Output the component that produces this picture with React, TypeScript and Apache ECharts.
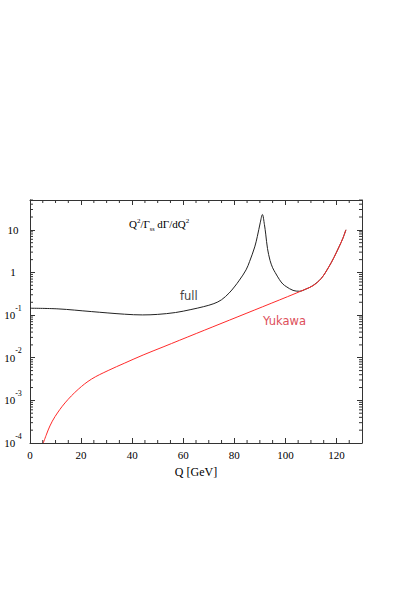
import React, { useEffect, useRef } from "react";
import * as echarts from "echarts";

// Q [GeV] and Q^2/Gamma_ss dGamma/dQ^2
const fullQ = [0, 11, 24, 37, 44, 50, 57, 63, 68, 72, 75, 78, 80, 82, 84.6, 86, 88, 89, 90.2, 91.0, 91.8, 92.3, 93, 94, 95, 96, 97.7, 99, 100.3, 103, 105.5, 108, 110.7, 114, 117, 119, 121, 122.5, 123.7];
const fullV = [0.145, 0.14, 0.121, 0.105, 0.101, 0.104, 0.115, 0.135, 0.158, 0.186, 0.229, 0.331, 0.457, 0.661, 1.15, 1.82, 3.98, 6.92, 15.1, 22.9, 13.2, 7.94, 3.63, 1.91, 1.29, 1.0, 0.676, 0.537, 0.468, 0.38, 0.363, 0.407, 0.49, 0.72, 1.35, 2.24, 3.98, 6.31, 10.0];

const yukQ = [5.2, 6.5, 7.8, 9.8, 13.7, 18.9, 24.1, 30.6, 37.1, 44.3, 52.1, 65.1, 78.1, 91.1, 104.2, 107.5, 110.7, 114, 117, 119, 121, 122.5, 123.7];
const yukV = [1.0e-4, 1.62e-4, 2.51e-4, 4.17e-4, 8.71e-4, 1.82e-3, 3.16e-3, 5.01e-3, 7.5e-3, 0.0116, 0.0179, 0.037, 0.0762, 0.157, 0.327, 0.398, 0.484, 0.72, 1.35, 2.24, 3.98, 6.31, 10.0];

const X_MIN = 0;
const X_MAX = 130;
const X_STEP = 20;
const X_MINOR = 5;
const Y_MIN = -4; // log10
const Y_MAX = 1.7; // log10

const AXIS = "#333";
const SERIF = "'Liberation Serif', 'DejaVu Serif', serif";
const SANS = "'DejaVu Sans', sans-serif";

const toPairs = (qs: number[], vs: number[]) => qs.map((q, i) => [q, Math.log10(vs[i])]);

export default function App() {
  const ref = useRef<HTMLDivElement>(null);
  useEffect(() => {
    if (!ref.current) return;
    const chart = echarts.init(ref.current, null, { renderer: "svg" });
    const yLabel = (v: number) => {
      if (Math.abs(v - Math.round(v)) > 1e-6) return "";
      const n = Math.round(v);
      if (n === 1) return "{b|10}";
      if (n === 0) return "{b|1}";
      return "{b|10}{e|" + n + "}";
    };
    const rich = {
      b: { fontSize: 11, fontFamily: SERIF, color: "#000" },
      e: { fontSize: 8, fontFamily: SERIF, color: "#000", padding: [0, 0, 14, 0] },
    };
    const xCommon = {
      type: "value",
      min: X_MIN,
      max: X_MAX,
      interval: X_STEP,
      splitLine: { show: false },
      axisLine: { show: true, onZero: false, lineStyle: { color: AXIS, width: 1 } },
      axisTick: { show: true, inside: true, length: 5, lineStyle: { color: AXIS } },
    };
    const yCommon = {
      type: "value",
      min: Y_MIN,
      max: Y_MAX,
      interval: 1,
      splitLine: { show: false },
      axisLine: { show: true, onZero: false, lineStyle: { color: AXIS, width: 1 } },
      axisTick: { show: true, inside: true, length: 5, lineStyle: { color: AXIS } },
    };
    chart.setOption({
      animation: false,
      backgroundColor: "#fff",
      grid: { left: 30, top: 200, width: 332, height: 243, containLabel: false },
      xAxis: [
        {
          ...xCommon,
          position: "bottom",
          axisLabel: {
            show: true,
            margin: 6,
            fontSize: 11,
            fontFamily: SERIF,
            color: "#000",
            formatter: (v: number) => (v % X_STEP === 0 ? String(v) : ""),
          },
          name: "Q [GeV]",
          nameLocation: "middle",
          nameGap: 23,
          nameTextStyle: { fontSize: 12, fontFamily: SERIF, color: "#000" },
        },
        { ...xCommon, position: "top", axisLabel: { show: false } },
      ],
      yAxis: [
        {
          ...yCommon,
          position: "left",
          axisLabel: { show: true, align: "center", margin: 17, formatter: yLabel, rich },
        },
        { ...yCommon, position: "right", axisLabel: { show: false } },
      ],
      graphic: [
        {
          type: "text",
          left: 129,
          top: 217,
          style: {
            text: "Q{sup|2}/Γ{sub|ss} dΓ/dQ{sup|2}",
            fontSize: 11,
            fontFamily: SERIF,
            fill: "#000",
            rich: {
              sup: { fontSize: 7, fontFamily: SERIF, padding: [0, 0, 7, 0] },
              sub: { fontSize: 6, fontFamily: SERIF, padding: [10, 0, 0, 0] },
            },
          },
        },
        {
          type: "text",
          left: 180,
          top: 290,
          style: { text: "full", fontSize: 11.5, fontFamily: SANS, fill: "#444" },
        },
        {
          type: "text",
          left: 263,
          top: 315,
          style: { text: "Yukawa", fontSize: 11.5, fontFamily: SANS, fill: "#dd4f5a" },
        },
      ],
      series: [
        {
          type: "custom",
          silent: true,
          clip: false,
          data: [[X_MIN, Y_MIN]],
          renderItem: (_p: any, api: any) => {
            const children: any[] = [];
            const style = { stroke: AXIS, lineWidth: 1 };
            for (let n = Y_MIN; n < Y_MAX; n++) {
              for (let k = 2; k <= 9; k++) {
                const v = n + Math.log10(k);
                if (v > Y_MAX) continue;
                const l = api.coord([X_MIN, v]);
                const r = api.coord([X_MAX, v]);
                children.push({ type: "line", shape: { x1: l[0], y1: l[1], x2: l[0] + 3, y2: l[1] }, style });
                children.push({ type: "line", shape: { x1: r[0], y1: r[1], x2: r[0] - 3, y2: r[1] }, style });
              }
            }
            for (let q = X_MIN + X_MINOR; q < X_MAX; q += X_MINOR) {
              if (q % X_STEP === 0) continue;
              const b = api.coord([q, Y_MIN]);
              const t = api.coord([q, Y_MAX]);
              children.push({ type: "line", shape: { x1: b[0], y1: b[1], x2: b[0], y2: b[1] - 3 }, style });
              children.push({ type: "line", shape: { x1: t[0], y1: t[1], x2: t[0], y2: t[1] + 3 }, style });
            }
            return { type: "group", children };
          },
        },
        {
          type: "line",
          name: "full",
          data: toPairs(fullQ, fullV),
          showSymbol: false,
          smooth: 0.35,
          lineStyle: { color: "#222", width: 1 },
          z: 2,
        },
        {
          type: "line",
          name: "Yukawa",
          data: toPairs(yukQ, yukV),
          showSymbol: false,
          smooth: 0.35,
          lineStyle: { color: "#ff2a2a", width: 1 },
          z: 3,
        },
      ],
    });
    return () => chart.dispose();
  }, []);
  return (
    <div
      ref={ref}
      style={{ position: "absolute", left: 0, top: 0, width: 397, height: 604 }}
    />
  );
}
